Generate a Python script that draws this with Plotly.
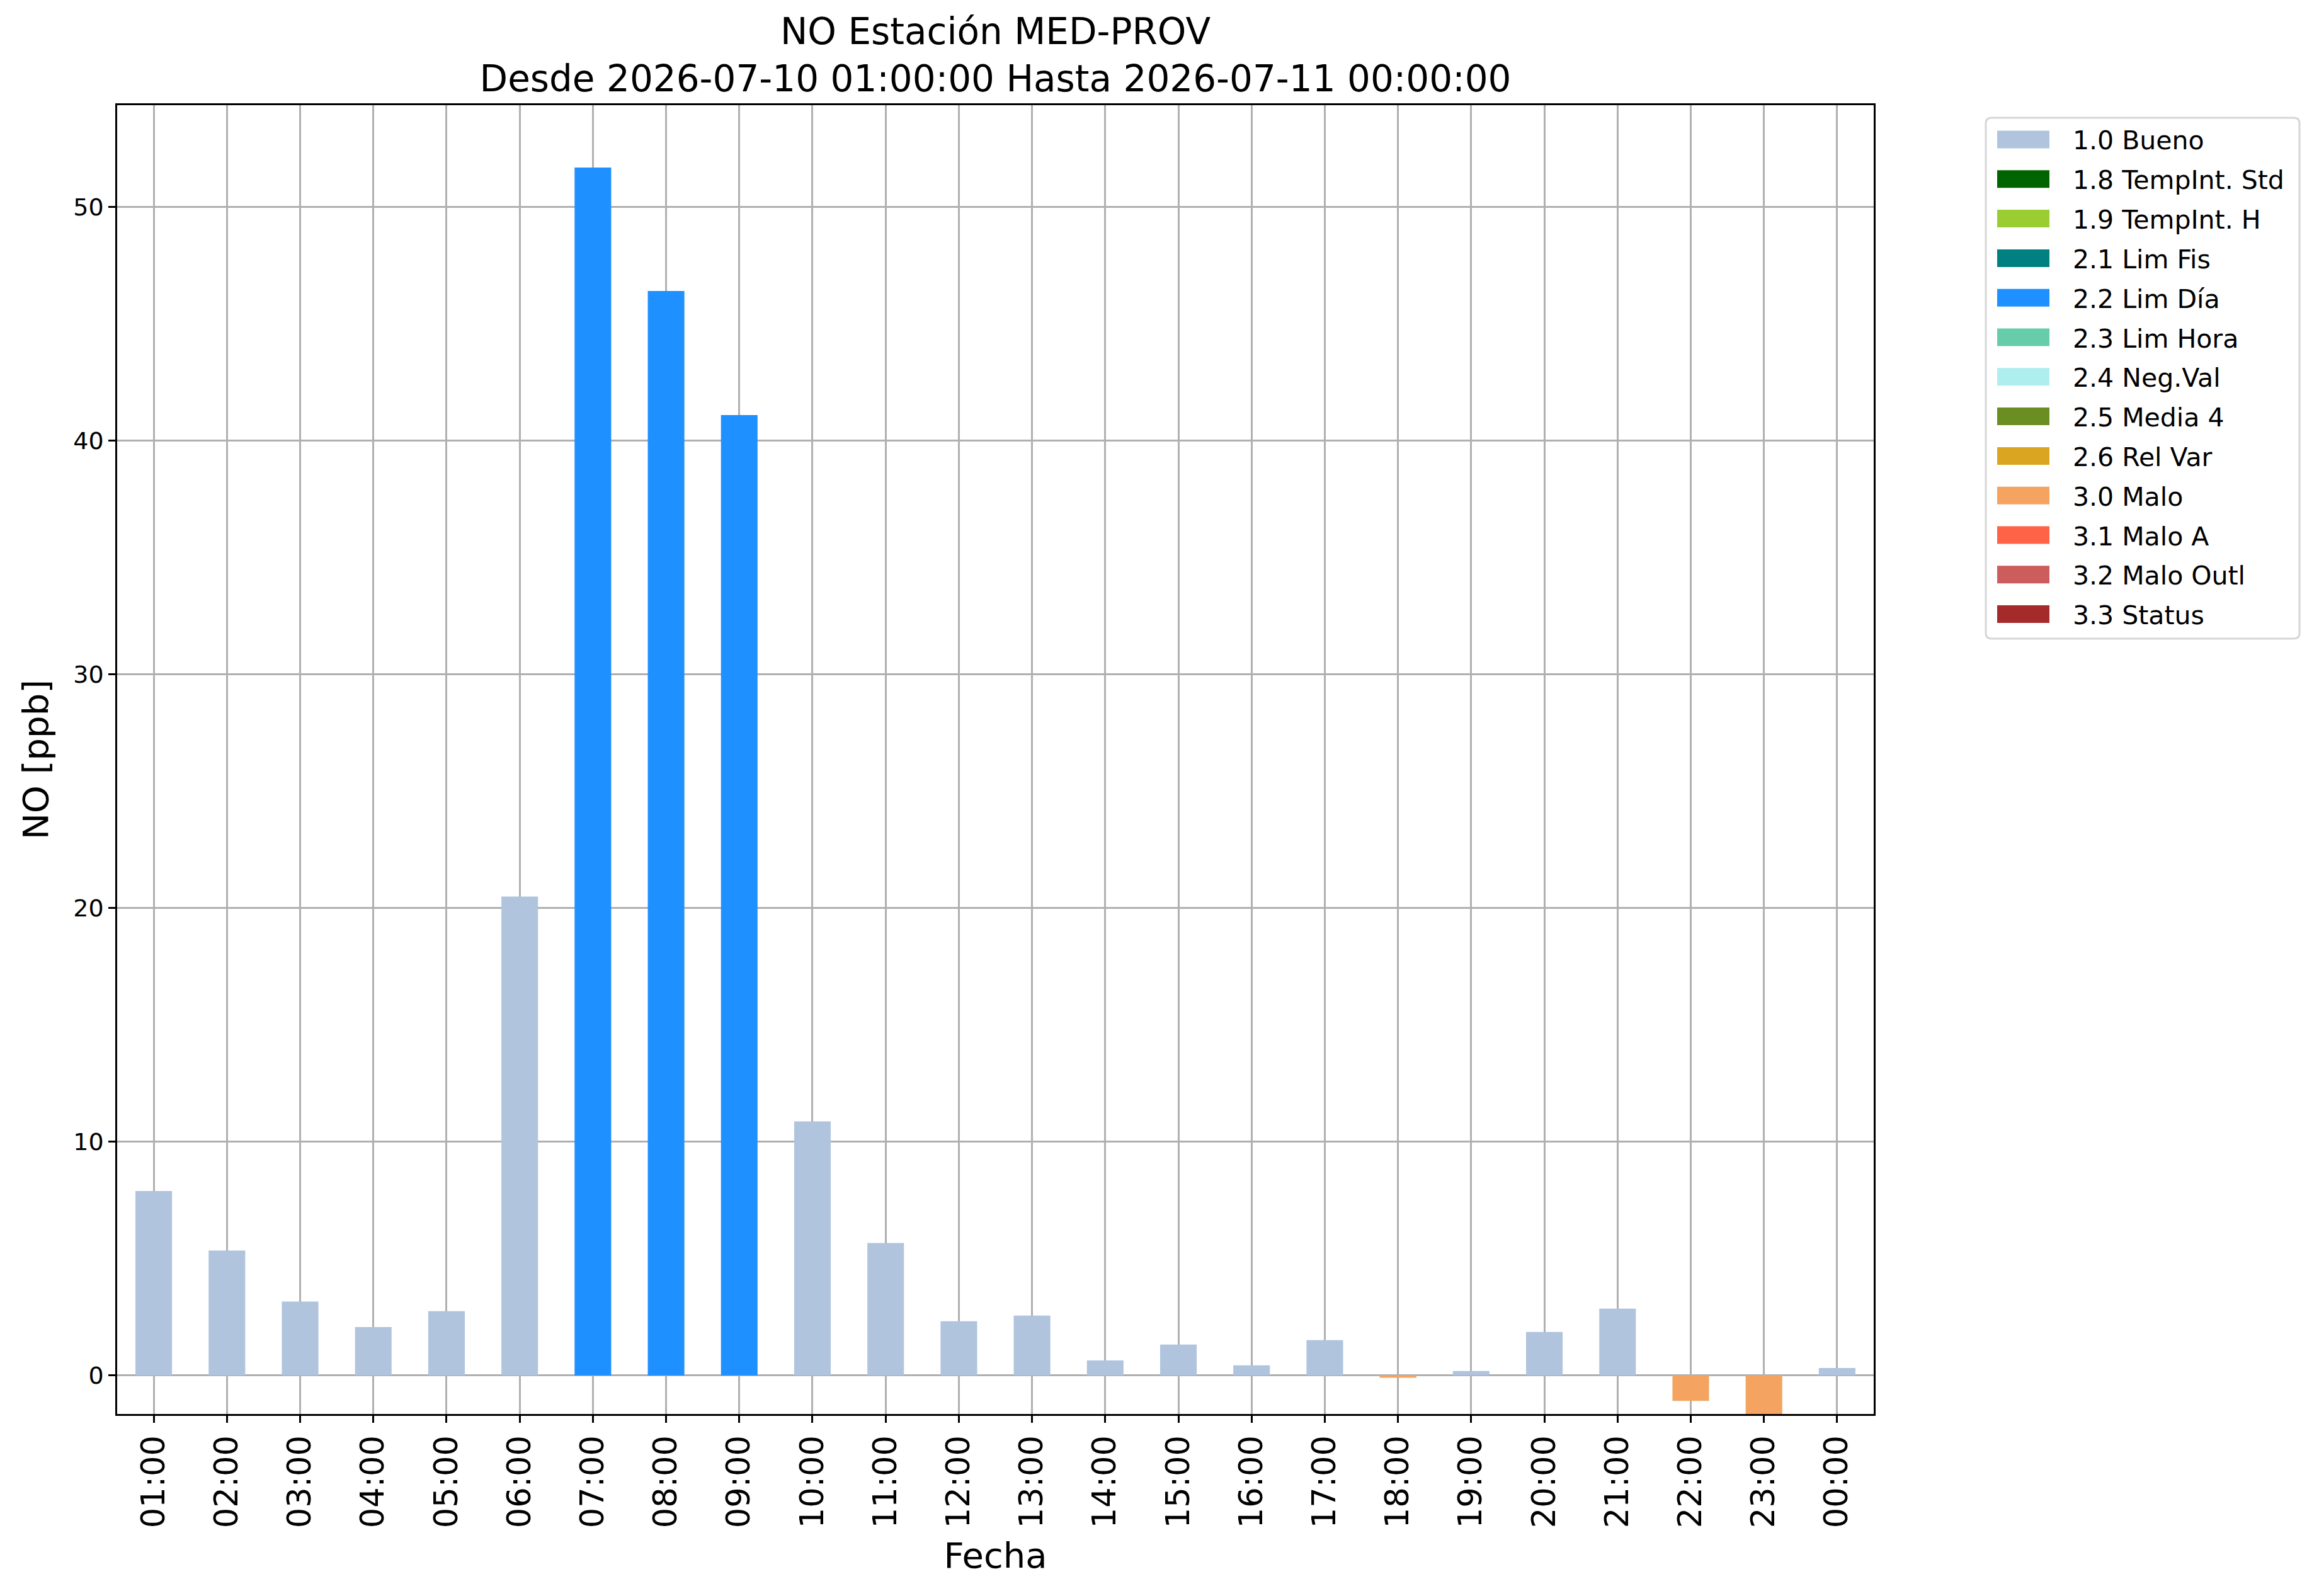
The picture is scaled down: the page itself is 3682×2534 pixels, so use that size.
import plotly.graph_objects as go

# Hourly NO values (ppb) and their validation flag
hours = ["01:00", "02:00", "03:00", "04:00", "05:00", "06:00", "07:00", "08:00",
         "09:00", "10:00", "11:00", "12:00", "13:00", "14:00", "15:00", "16:00",
         "17:00", "18:00", "19:00", "20:00", "21:00", "22:00", "23:00", "00:00"]
values = [7.89, 5.34, 3.16, 2.07, 2.75, 20.49, 51.68, 46.40,
          41.09, 10.87, 5.67, 2.32, 2.56, 0.64, 1.32, 0.43,
          1.51, -0.10, 0.19, 1.86, 2.86, -1.09, -1.75, 0.32]
flags = ["1.0 Bueno"] * 6 + ["2.2 Lim Día"] * 3 + ["1.0 Bueno"] * 8 + \
        ["3.0 Malo"] + ["1.0 Bueno"] * 3 + ["3.0 Malo"] * 2 + ["1.0 Bueno"]

# Legend categories and their colours
flag_names = ["1.0 Bueno", "1.8 TempInt. Std", "1.9 TempInt. H", "2.1 Lim Fis",
              "2.2 Lim Día", "2.3 Lim Hora", "2.4 Neg.Val", "2.5 Media 4",
              "2.6 Rel Var", "3.0 Malo", "3.1 Malo A", "3.2 Malo Outl", "3.3 Status"]
flag_colors = ["#B0C4DE", "#006400", "#9ACD32", "#008080", "#1E90FF", "#66CDAA",
               "#AFEEEE", "#6B8E23", "#DAA520", "#F4A460", "#FF6347", "#CD5C5C",
               "#A52A2A"]

FONT = "DejaVu Sans"
W, H = 3682, 2534
# plot area in pixels
L, R, T, B = 186, 2975, 167, 2245


def px_x(px):
    return (px - L) / (R - L)


def px_y(py):
    return (B - py) / (B - T)


fig = go.Figure()
for name, color in zip(flag_names, flag_colors):
    ys = [v if f == name else None for v, f in zip(values, flags)]
    fig.add_trace(go.Bar(
        x=hours, y=ys, name=name, width=0.5,
        marker=dict(color=color, line=dict(width=0)),
    ))

axis_common = dict(
    showline=True, linecolor="black", linewidth=2.5, mirror=True,
    ticks="outside", ticklen=11, tickwidth=2.5, tickcolor="black",
    showgrid=True, gridcolor="#b0b0b0", gridwidth=2.5,
    zeroline=False, layer="above traces",
)

# matplotlib-style legend box drawn by hand (wide colour patches)
shapes = []
annotations = []
bx0, bx1, by0, by1, rad = 3153, 3651, 187, 1014, 9
rx, ry = rad / (R - L), rad / (B - T)
x0, x1, y0, y1 = px_x(bx0), px_x(bx1), px_y(by1), px_y(by0)
path = (f"M{x0 + rx},{y1} L{x1 - rx},{y1} Q{x1},{y1} {x1},{y1 - ry} "
        f"L{x1},{y0 + ry} Q{x1},{y0} {x1 - rx},{y0} L{x0 + rx},{y0} "
        f"Q{x0},{y0} {x0},{y0 + ry} L{x0},{y1 - ry} Q{x0},{y1} {x0 + rx},{y1} Z")
shapes.append(dict(type="path", xref="paper", yref="paper", path=path,
                   fillcolor="white", line=dict(color="#d6d6d6", width=3),
                   layer="above"))
for i, (name, color) in enumerate(zip(flag_names, flag_colors)):
    cy = 221.5 + 62.8 * i
    shapes.append(dict(type="rect", xref="paper", yref="paper",
                       x0=px_x(3171), x1=px_x(3254),
                       y0=px_y(cy + 14), y1=px_y(cy - 14),
                       fillcolor=color, line=dict(width=0), layer="above"))
    annotations.append(dict(xref="paper", yref="paper", x=px_x(3289), y=px_y(cy + 2),
                            xanchor="left", yanchor="middle", showarrow=False,
                            text=name, font=dict(family=FONT, size=41, color="black")))

fig.update_layout(
    autosize=False, width=W, height=H,
    barmode="relative",
    plot_bgcolor="white", paper_bgcolor="white",
    margin=dict(l=L, r=W - R, t=T, b=H - B),
    font=dict(family=FONT, color="black"),
    title=dict(
        text="NO Estación MED-PROV<br>Desde 2026-07-10 01:00:00 Hasta 2026-07-11 00:00:00",
        x=(L + (R - L) / 2) / W, xanchor="center",
        y=1 - 70 / H, yanchor="top",
        font=dict(family=FONT, size=58, color="black"),
    ),
    xaxis=dict(
        type="category", range=[-0.5, 23.5], tickangle=-90,
        tickfont=dict(family=FONT, size=51),
        title=dict(text="Fecha", font=dict(family=FONT, size=56), standoff=25),
        **axis_common,
    ),
    yaxis=dict(
        range=[-1.65, 54.35], dtick=10, tick0=0,
        tickfont=dict(family=FONT, size=38),
        title=dict(text="NO [ppb]", font=dict(family=FONT, size=56), standoff=22),
        **axis_common,
    ),
    shapes=shapes,
    annotations=annotations,
    showlegend=False,
)

fig.write_html("out.html", config={"displayModeBar": False},
               post_script="document.body.style.margin='0';")
